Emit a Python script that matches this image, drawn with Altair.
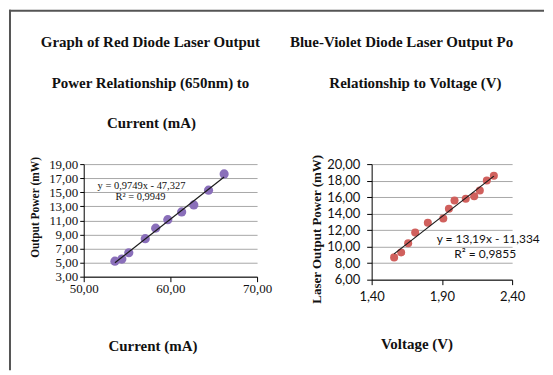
import altair as alt
import pandas as pd

# ---- data ----
red_current = [53.6, 54.4, 55.2, 57.1, 58.3, 59.7, 61.3, 62.7, 64.4, 66.2]
red_power = [5.2, 5.5, 6.4, 8.4, 9.9, 11.1, 12.2, 13.2, 15.3, 17.6]

bv_voltage = [1.56, 1.61, 1.66, 1.71, 1.80, 1.91, 1.95, 1.99, 2.07, 2.13, 2.17, 2.22, 2.27]
bv_power = [8.7, 9.3, 10.4, 11.7, 12.9, 13.4, 14.6, 15.6, 15.8, 16.1, 16.8, 18.0, 18.6]

red_ticks_x = [50, 60, 70]
red_ticks_y = [3, 5, 7, 9, 11, 13, 15, 17, 19]
bv_ticks_x = [1.4, 1.9, 2.4]
bv_ticks_y = [6, 8, 10, 12, 14, 16, 18, 20]

red_title = ["Graph of Red Diode Laser Output", "Power Relationship (650nm) to", "Current (mA)"]
bv_title = ["Blue-Violet Diode Laser Output Po", "Relationship to Voltage (V)"]
red_eq = ["y = 0,9749x - 47,327", "R² = 0,9949"]
bv_eq = ["y = 13,19x - 11,334", "R² = 0,9855"]

red_df = pd.DataFrame({"x": red_current, "y": red_power})
bv_df = pd.DataFrame({"x": bv_voltage, "y": bv_power})
one = pd.DataFrame({"a": [0]})

SERIF = "Liberation Serif"
SANS = "Lato"
LBL = "replace(format(datum.value, '.2f'), '.', ',')"

L_W, L_H = 174, 113
R_W, R_H = 141, 116


def txt(t, x, y, font, size, weight="normal", align="center"):
    return alt.Chart(one).mark_text(
        font=font, fontSize=size, fontWeight=weight, align=align,
        baseline="middle", color="#111111"
    ).encode(x=alt.value(x), y=alt.value(y), text=alt.value(t))


# ---------------- left panel ----------------
lx = alt.X("x:Q", scale=alt.Scale(domain=[50, 70], nice=False, zero=False),
           axis=alt.Axis(values=red_ticks_x, labelExpr=LBL, labelFont=SERIF, labelFontSize=13,
                         labelFlush=False, labelPadding=1, tickSize=5, grid=False,
                         title="Current (mA)", titleFont=SERIF, titleFontSize=15,
                         titleFontWeight="bold", titleX=69, titleY=69,
                         titleAlign="center", titleBaseline="middle"))
ly = alt.Y("y:Q", scale=alt.Scale(domain=[3, 19], nice=False, zero=False),
           axis=alt.Axis(values=red_ticks_y, labelExpr=LBL, labelFont=SERIF, labelFontSize=13,
                         labelPadding=2, tickSize=4, grid=True, gridColor="#a8a8a8",
                         title="Output Power (mW)", titleFont=SERIF, titleFontSize=11.5,
                         titleFontWeight="bold", titleX=-48, titleY=43, titleAngle=-90,
                         titleAlign="center", titleBaseline="middle"))

left_pts = alt.Chart(red_df).mark_circle(size=85, color="#8a6fba", opacity=1).encode(x=lx, y=ly)
left_fit = alt.Chart(red_df).transform_regression("x", "y").mark_line(
    color="#1a1a1a", strokeWidth=1.2).encode(x=lx, y=ly)

frame_top = alt.Chart(one).mark_rule(color="#555555", strokeWidth=2).encode(
    x=alt.value(-75), x2=alt.value(462), y=alt.value(-154))
frame_left = alt.Chart(one).mark_rule(color="#555555", strokeWidth=2).encode(
    x=alt.value(-74), y=alt.value(-155), y2=alt.value(207))

left = alt.layer(
    frame_top, frame_left,
    txt(red_title[0], 67, -123, SERIF, 15, "bold"),
    txt(red_title[1], 67, -81, SERIF, 15, "bold"),
    txt(red_title[2], 68, -41, SERIF, 15, "bold"),
    left_pts, left_fit,
    txt(red_eq[0], 58, 22, SERIF, 10.5),
    txt(red_eq[1], 57, 33, SERIF, 10.5),
).properties(width=L_W, height=L_H)

# ---------------- right panel ----------------
rx = alt.X("x:Q", scale=alt.Scale(domain=[1.4, 2.4], nice=False, zero=False),
           axis=alt.Axis(values=bv_ticks_x, labelExpr=LBL, labelFont=SANS, labelFontSize=13,
                         labelFlush=False, labelPadding=6, tickSize=5, grid=False,
                         title="Voltage (V)", titleFont=SERIF, titleFontSize=15,
                         titleFontWeight="bold", titleX=45, titleY=64,
                         titleAlign="center", titleBaseline="middle"))
ry = alt.Y("y:Q", scale=alt.Scale(domain=[6, 20], nice=False, zero=False),
           axis=alt.Axis(values=bv_ticks_y, labelExpr=LBL, labelFont=SANS, labelFontSize=13,
                         labelPadding=7, tickSize=5, grid=True, gridColor="#a8a8a8",
                         title="Laser Output Power (mW)", titleFont=SERIF, titleFontSize=13,
                         titleFontWeight="bold", titleX=-55, titleY=65, titleAngle=-90,
                         titleAlign="center", titleBaseline="middle"))

right_pts = alt.Chart(bv_df).mark_circle(size=65, color="#d0605d", opacity=1).encode(x=rx, y=ry)
right_fit = alt.Chart(bv_df).transform_regression("x", "y").mark_line(
    color="#1a1a1a", strokeWidth=1.2).encode(x=rx, y=ry)

right = alt.layer(
    txt(bv_title[0], 30, -123, SERIF, 15, "bold"),
    txt(bv_title[1], 44, -81, SERIF, 15, "bold"),
    right_pts, right_fit,
    txt(bv_eq[0], 117, 75, SANS, 12),
    txt(bv_eq[1], 114, 90, SANS, 12),
).properties(width=R_W, height=R_H)

chart = alt.hconcat(left, right, spacing=115, bounds="flush").properties(
    padding=0, background="white"
).configure_view(strokeWidth=0).configure_axis(
    labelColor="#111111", titleColor="#111111", domainColor="#000000",
    tickColor="#000000", domainWidth=1, tickWidth=1, gridWidth=1
)

chart.save("out.html", embed_options={"renderer": "svg", "actions": False})
